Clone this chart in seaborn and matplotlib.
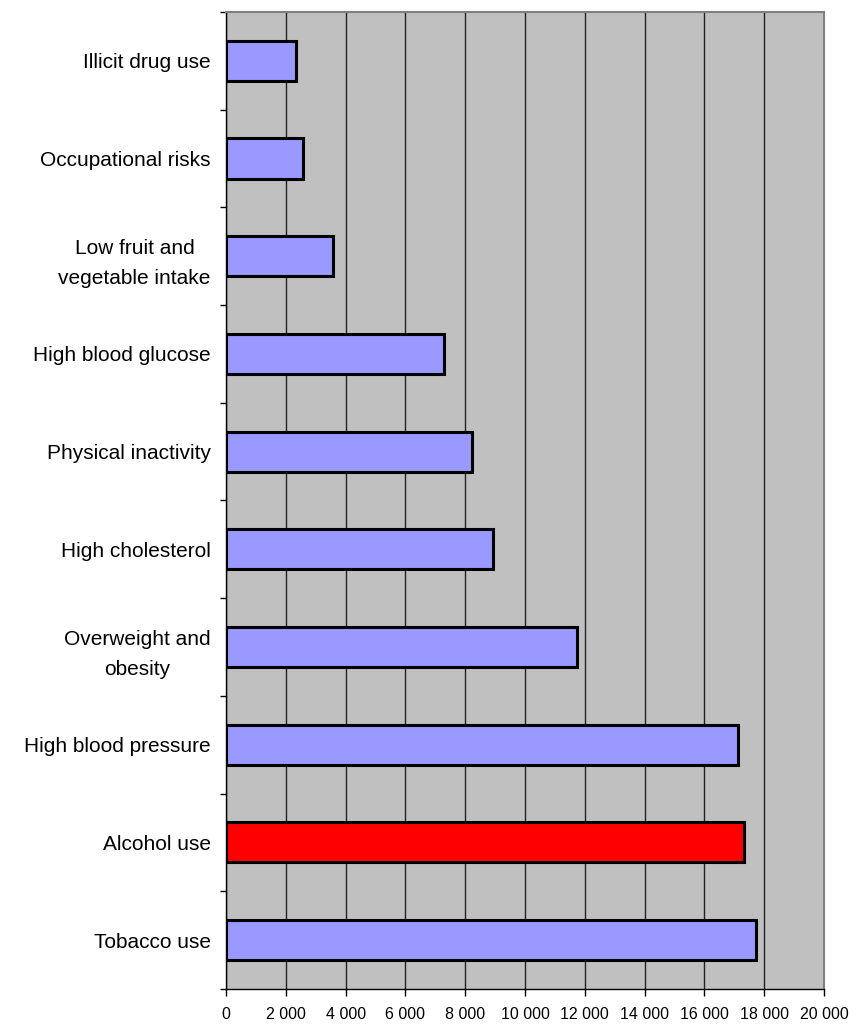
import matplotlib
matplotlib.use("Agg")
import matplotlib.pyplot as plt
import matplotlib.ticker as mticker
import pandas as pd
import seaborn as sns

# risk factors, top to bottom as drawn
risk_factors = [
    "Illicit drug use",
    "Occupational risks",
    "Low fruit and\nvegetable intake",
    "High blood glucose",
    "Physical inactivity",
    "High cholesterol",
    "Overweight and\nobesity",
    "High blood pressure",
    "Alcohol use",
    "Tobacco use",
]
values = [2340, 2560, 3580, 7290, 8230, 8930, 11740, 17110, 17320, 17720]
bar_colors = ["#9999FF"] * 8 + ["#FF0000", "#9999FF"]
x_ticks = list(range(0, 20001, 2000))

df = pd.DataFrame({"risk": risk_factors, "value": values})

sns.set_style("white")
plt.rcParams["font.family"] = ["Liberation Sans", "DejaVu Sans"]
plt.rcParams["text.color"] = "black"
plt.rcParams["xtick.color"] = "black"
plt.rcParams["ytick.color"] = "black"

fig = plt.figure(figsize=(8.56, 10.32), dpi=100)
ax = fig.add_axes([0.264, 0.0417, 0.6986, 0.9467])

sns.barplot(
    data=df, x="value", y="risk", hue="risk", palette=bar_colors,
    saturation=1, orient="h", width=0.41, edgecolor="black", linewidth=2.2,
    legend=False, ax=ax, zorder=3,
)

ax.set_facecolor("#C0C0C0")
ax.set_xlim(0, 20000)
ax.set_ylim(9.5, -0.5)
ax.set_xlabel("")
ax.set_ylabel("")

# vertical gridlines
ax.set_xticks(x_ticks)
ax.xaxis.set_major_formatter(
    mticker.FuncFormatter(lambda v, p: f"{v:,.0f}".replace(",", " "))
)
ax.grid(axis="x", color="#222222", linewidth=1, zorder=0)
ax.set_axisbelow(True)

# y tick marks between categories
ax.yaxis.set_minor_locator(mticker.FixedLocator([i - 0.5 for i in range(11)]))
ax.tick_params(axis="y", which="major", length=0, pad=11, labelsize=15)
ax.tick_params(axis="y", which="minor", length=4, width=1, color="black", left=True)
ax.tick_params(axis="x", which="major", length=5, width=1, color="black",
               bottom=True, pad=8, labelsize=11.5)
for lbl in ax.get_yticklabels():
    lbl.set_multialignment("center")
    lbl.set_linespacing(1.75)

for side in ["top", "right"]:
    ax.spines[side].set_color("#808080")
    ax.spines[side].set_linewidth(1.5)
for side in ["left", "bottom"]:
    ax.spines[side].set_color("black")
    ax.spines[side].set_linewidth(1)

fig.savefig("out.png", dpi=100)
